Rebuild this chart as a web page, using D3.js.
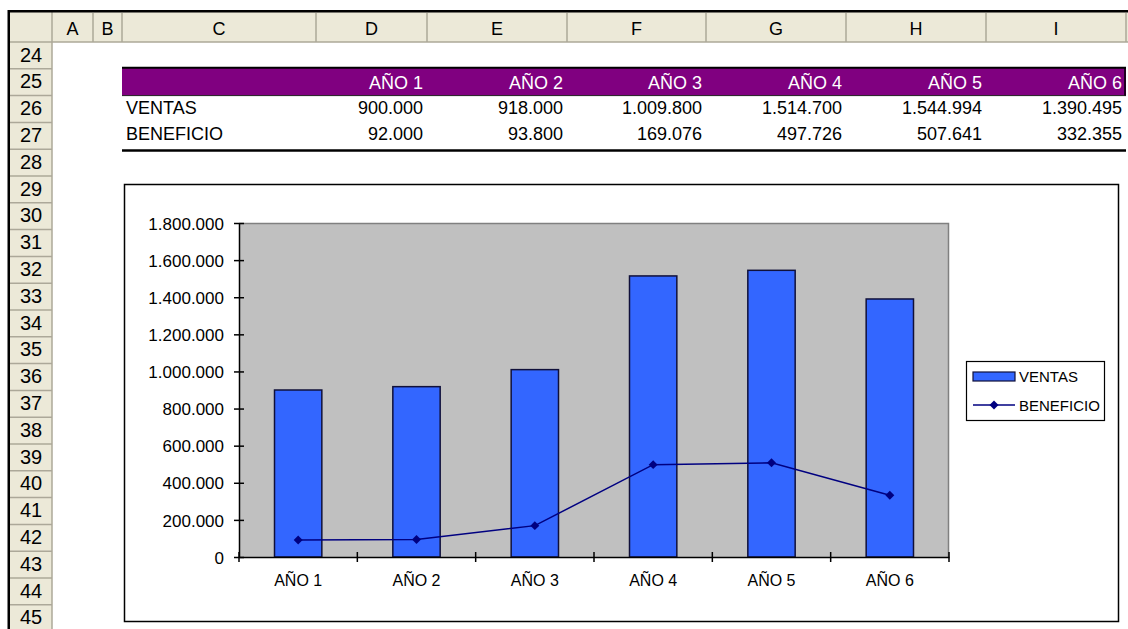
<!doctype html>
<html lang="es">
  <head>
    <meta charset="utf-8">
    <title>Ventas y beneficio</title>
    <script src="https://d3js.org/d3.v7.min.js"></script>
    <style>
      body { margin: 0; background: #fff; }
      svg { display: block; font-family: "Liberation Sans", Arial, sans-serif; }
    </style>
  </head>

  <body>
    <svg width="1128" height="629"></svg>

    <script>
      // data
      var years = ["AÑO 1", "AÑO 2", "AÑO 3", "AÑO 4", "AÑO 5", "AÑO 6"];
      var ventas = [900000, 918000, 1009800, 1514700, 1544994, 1390495];
      var beneficio = [92000, 93800, 169076, 497726, 507641, 332355];
      var yTickValues = [0, 200000, 400000, 600000, 800000, 1000000, 1200000, 1400000, 1600000, 1800000];
      var colLetters = ["A", "B", "C", "D", "E", "F", "G", "H", "I"];
      var rowNumbers = [24, 25, 26, 27, 28, 29, 30, 31, 32, 33, 34, 35, 36, 37, 38, 39, 40, 41, 42, 43, 44, 45];

      // sheet layout
      var colEdges = [52, 93, 122, 316, 427, 567, 706, 846, 986, 1126];
      var rowTop = 42, rowH = 26.8;
      var headBg = "#ECE9D8", headLine = "#ACA899";

      var es = d3.formatLocale({ decimal: ",", thousands: ".", grouping: [3], currency: ["", " €"] });
      var fmt = es.format(",d");

      var svg = d3.select("svg");

      // ---- spreadsheet frame ----
      svg.append("rect").attr("x", 10).attr("y", 12).attr("width", 1118).attr("height", 30).attr("fill", headBg);
      svg.append("rect").attr("x", 10).attr("y", 42).attr("width", 42).attr("height", 600).attr("fill", headBg);

      svg.append("line").attr("x1", 10).attr("x2", 1128).attr("y1", 42).attr("y2", 42)
        .attr("stroke", headLine).attr("stroke-width", 1.5);
      svg.append("line").attr("x1", 52).attr("x2", 52).attr("y1", 12).attr("y2", 629)
        .attr("stroke", headLine).attr("stroke-width", 1.5);

      // column headers
      var cols = svg.append("g").selectAll("g").data(colLetters).enter().append("g");
      cols.append("line")
        .attr("x1", function(d, i){ return colEdges[i + 1]; })
        .attr("x2", function(d, i){ return colEdges[i + 1]; })
        .attr("y1", 13).attr("y2", 42)
        .attr("stroke", headLine).attr("stroke-width", 1.5);
      cols.append("text")
        .attr("x", function(d, i){ return (colEdges[i] + colEdges[i + 1]) / 2; })
        .attr("y", 35)
        .attr("text-anchor", "middle")
        .attr("font-size", 18)
        .attr("fill", "#000")
        .text(function(d){ return d; });

      // row headers
      var rows = svg.append("g").selectAll("g").data(rowNumbers).enter().append("g");
      rows.append("line")
        .attr("x1", 10).attr("x2", 52)
        .attr("y1", function(d, i){ return rowTop + (i + 1) * rowH; })
        .attr("y2", function(d, i){ return rowTop + (i + 1) * rowH; })
        .attr("stroke", headLine).attr("stroke-width", 1.5);
      rows.append("text")
        .attr("x", 31)
        .attr("y", function(d, i){ return rowTop + i * rowH + 19.5; })
        .attr("text-anchor", "middle")
        .attr("font-size", 20)
        .text(function(d){ return d; });

      // outer dark border
      svg.append("path").attr("d", "M8.75,629 V11.25 H1128")
        .attr("fill", "none").attr("stroke", "#000").attr("stroke-width", 2.5);

      // ---- data table ----
      var r25 = rowTop + rowH, r26 = rowTop + 2 * rowH, r27 = rowTop + 3 * rowH;
      svg.append("rect").attr("x", 122).attr("y", r25 - 1).attr("width", 1004).attr("height", rowH + 1)
        .attr("fill", "#800080");
      svg.append("line").attr("x1", 122).attr("x2", 1126).attr("y1", r25 - 1).attr("y2", r25 - 1)
        .attr("stroke", "#000").attr("stroke-width", 2);
      svg.append("line").attr("x1", 122).attr("x2", 1126).attr("y1", r26).attr("y2", r26)
        .attr("stroke", "#222").attr("stroke-width", 1);
      svg.append("line").attr("x1", 1125).attr("x2", 1125).attr("y1", r25 - 1).attr("y2", r26)
        .attr("stroke", "#000").attr("stroke-width", 1.5);
      svg.append("line").attr("x1", 122).attr("x2", 1126).attr("y1", 150.5).attr("y2", 150.5)
        .attr("stroke", "#000").attr("stroke-width", 2.5);

      var table = svg.append("g").attr("font-size", 18);
      table.selectAll("text.head").data(years).enter().append("text")
        .attr("class", "head")
        .attr("x", function(d, i){ return colEdges[i + 4] - 4; })
        .attr("y", r25 + 20.5)
        .attr("text-anchor", "end")
        .attr("fill", "#fff")
        .text(function(d){ return d; });

      var series = [["VENTAS", ventas, r26 + 18.7], ["BENEFICIO", beneficio, r27 + 17.2]];
      series.forEach(function(s){
        table.append("text").attr("x", 126).attr("y", s[2]).text(s[0]);
        table.selectAll(null).data(s[1]).enter().append("text")
          .attr("x", function(d, i){ return colEdges[i + 4] - 4; })
          .attr("y", s[2])
          .attr("text-anchor", "end")
          .text(function(d){ return fmt(d); });
      });

      // ---- chart ----
      svg.append("rect").attr("x", 124.5).attr("y", 184.5).attr("width", 994).attr("height", 437)
        .attr("fill", "#fff").attr("stroke", "#000").attr("stroke-width", 1.5);

      var plot = { left: 239, right: 949, top: 223, bottom: 557 };

      var x = d3.scaleBand().domain(years).range([plot.left, plot.right]).padding(0);
      var y = d3.scaleLinear().domain([0, 1800000]).range([plot.bottom, plot.top]);

      svg.append("rect").attr("x", plot.left).attr("y", plot.top)
        .attr("width", plot.right - plot.left).attr("height", plot.bottom - plot.top)
        .attr("fill", "#C0C0C0");
      svg.append("path")
        .attr("d", "M" + plot.left + "," + (plot.top + 0.5) + " H" + (plot.right - 0.5) + " V" + plot.bottom)
        .attr("fill", "none").attr("stroke", "#808080").attr("stroke-width", 1.5);

      // bars
      var barW = x.bandwidth() / 2.5;
      svg.append("g").selectAll("rect").data(ventas).enter().append("rect")
        .attr("x", function(d, i){ return x(years[i]) + (x.bandwidth() - barW) / 2; })
        .attr("y", function(d){ return y(d); })
        .attr("width", barW)
        .attr("height", function(d){ return y(0) - y(d); })
        .attr("fill", "#3366FF")
        .attr("stroke", "#10103a")
        .attr("stroke-width", 1.5);

      // axes
      var yAxis = d3.axisLeft(y).tickValues(yTickValues).tickFormat(fmt).tickSizeInner(5).tickSizeOuter(0).tickPadding(10);
      var gy = svg.append("g").attr("transform", "translate(" + plot.left + ",0)").call(yAxis);
      gy.select(".domain").attr("stroke", "#000").attr("stroke-width", 1.5);
      gy.selectAll(".tick line").attr("x2", 5).attr("x1", -5).attr("stroke", "#000").attr("stroke-width", 1.5);
      gy.selectAll(".tick text").attr("font-size", 17).attr("font-family", "Liberation Sans, Arial, sans-serif")
        .attr("fill", "#000").attr("dy", "0.36em");

      var xAxis = d3.axisBottom(x).tickSize(0).tickPadding(18);
      var gx = svg.append("g").attr("transform", "translate(0," + plot.bottom + ")").call(xAxis);
      gx.select(".domain").attr("stroke", "#000").attr("stroke-width", 1.5);
      gx.selectAll(".tick text").attr("font-size", 16).attr("font-family", "Liberation Sans, Arial, sans-serif")
        .attr("fill", "#000");
      // category boundary ticks
      var edges = years.map(function(d){ return x(d); }).concat([plot.right]);
      gx.selectAll("line.edge").data(edges).enter().append("line")
        .attr("class", "edge")
        .attr("x1", function(d){ return d; }).attr("x2", function(d){ return d; })
        .attr("y1", -5).attr("y2", 5)
        .attr("stroke", "#000").attr("stroke-width", 1.5);

      // beneficio line
      var cx = function(d, i){ return x(years[i]) + x.bandwidth() / 2; };
      var line = d3.line().x(cx).y(function(d){ return y(d); });
      svg.append("path").datum(beneficio)
        .attr("d", line)
        .attr("fill", "none").attr("stroke", "#000080").attr("stroke-width", 1.5);
      var diamond = d3.symbol().type(d3.symbolSquare).size(40);
      svg.append("g").selectAll("path").data(beneficio).enter().append("path")
        .attr("transform", function(d, i){ return "translate(" + cx(d, i) + "," + y(d) + ") rotate(45)"; })
        .attr("d", diamond)
        .attr("fill", "#000080");

      // legend
      var lg = svg.append("g").attr("font-size", 15);
      lg.append("rect").attr("x", 966.5).attr("y", 361.5).attr("width", 138).attr("height", 59)
        .attr("fill", "#fff").attr("stroke", "#000").attr("stroke-width", 1.2);
      lg.append("rect").attr("x", 973).attr("y", 372).attr("width", 42).attr("height", 9)
        .attr("fill", "#3366FF").attr("stroke", "#10103a").attr("stroke-width", 1.2);
      lg.append("text").attr("x", 1019).attr("y", 382).text("VENTAS");
      lg.append("line").attr("x1", 973).attr("x2", 1015).attr("y1", 405).attr("y2", 405)
        .attr("stroke", "#000080").attr("stroke-width", 1.5);
      lg.append("path").attr("transform", "translate(994,405) rotate(45)").attr("d", diamond).attr("fill", "#000080");
      lg.append("text").attr("x", 1019).attr("y", 411).text("BENEFICIO");
    </script>
  </body>
</html>
